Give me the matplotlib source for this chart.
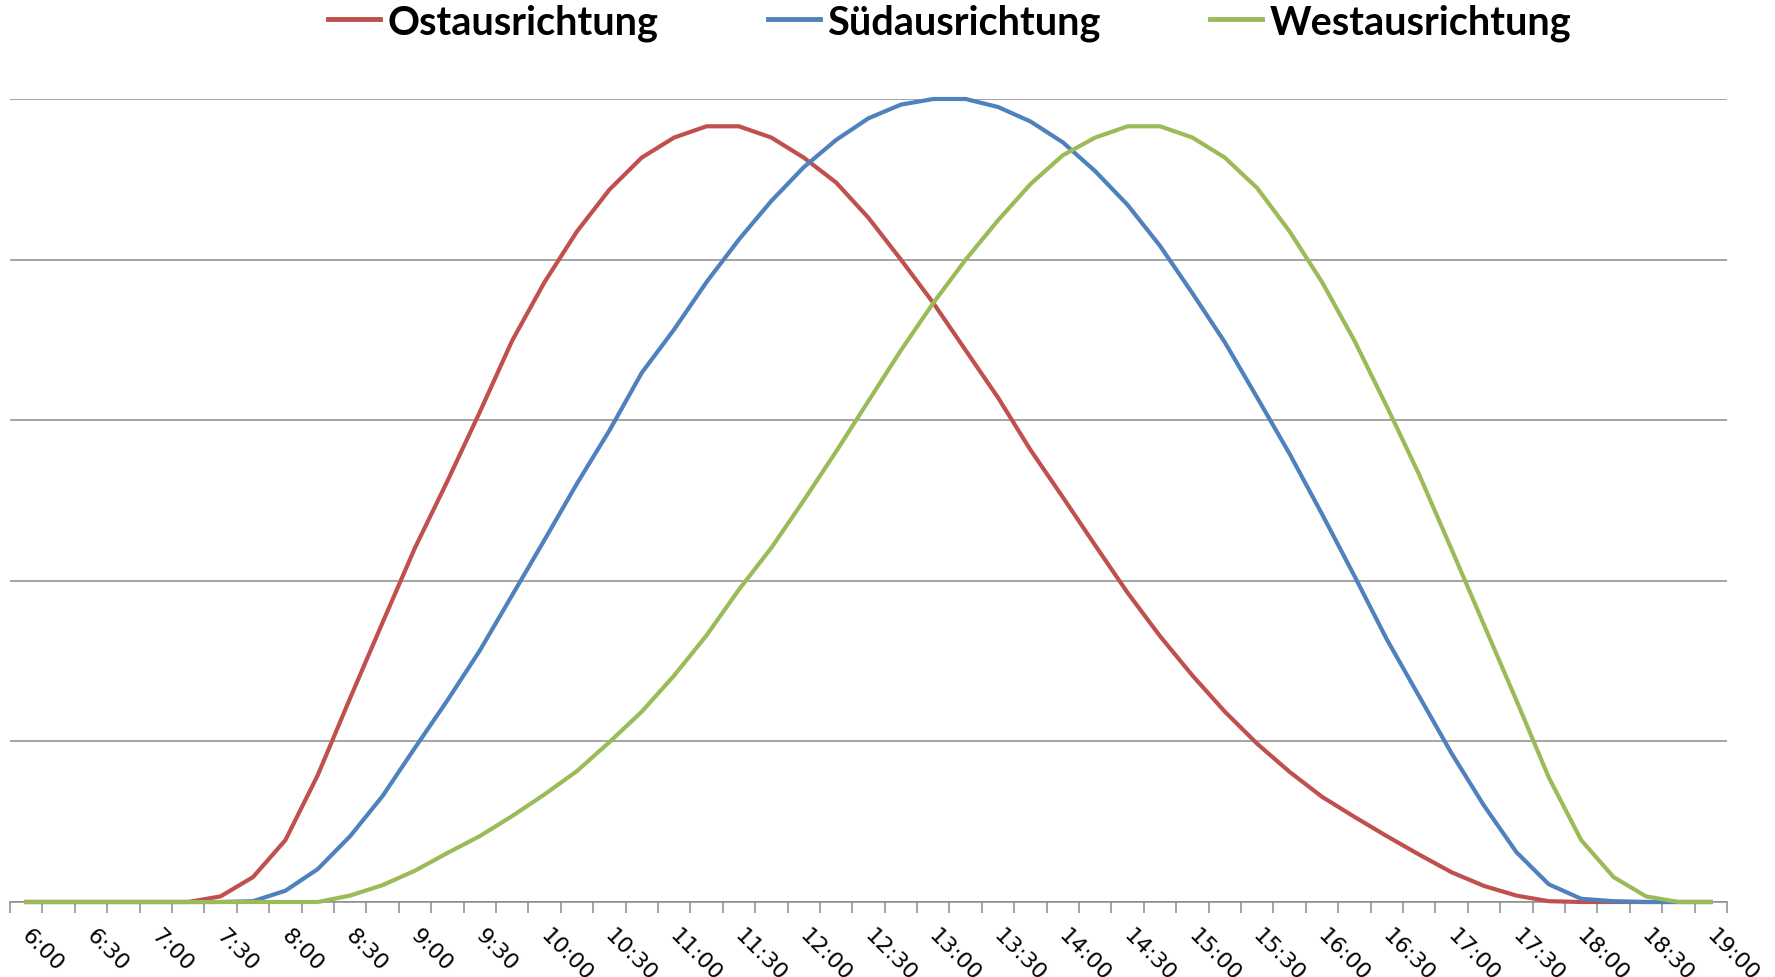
import matplotlib
matplotlib.use("Agg")
import matplotlib.pyplot as plt
import matplotlib.transforms as mtransforms
from matplotlib.lines import Line2D

# Uhrzeiten im 15-Minuten-Raster, 6:00 bis 19:00
times = ["%d:%02d" % (h, m) for h in range(6, 20) for m in (0, 15, 30, 45)][:53]

# relative Leistung (Achse ohne Beschriftung)
ost = [0, 0, 0, 0, 0, 0, 7, 31, 77, 158, 254, 348, 441, 524, 610, 699,
       772, 835, 887, 927, 952, 966, 966, 952, 927, 896, 852, 800, 746, 687,
       628, 563, 504, 444, 385, 331, 282, 237, 197, 162, 131, 106, 82, 59,
       37, 20, 8, 1, 0, 0, 0, 0, 0]
sued = [0, 0, 0, 0, 0, 0, 0, 1, 14, 41, 82, 132, 192, 251, 313, 382,
        451, 521, 587, 659, 713, 772, 825, 873, 915, 949, 976, 993, 1000, 1000,
        990, 972, 946, 910, 868, 817, 758, 697, 628, 558, 483, 406, 327, 256,
        185, 120, 62, 22, 4, 1, 0, 0, 0]
west = [0, 0, 0, 0, 0, 0, 0, 0, 0, 0, 8, 21, 39, 61, 82, 107,
        134, 163, 199, 237, 282, 332, 389, 441, 500, 561, 624, 687, 746, 800,
        849, 894, 930, 952, 966, 966, 952, 927, 889, 835, 772, 699, 617, 532,
        439, 345, 251, 155, 77, 31, 7, 0, 0]

series = [("Ostausrichtung", ost, "#C0504D"),
          ("Südausrichtung", sued, "#4F81BD"),
          ("Westausrichtung", west, "#9BBB59")]

fig = plt.figure(figsize=(17.75, 9.78), dpi=100)
ax = fig.add_axes([10 / 1775, 75 / 978, 1717 / 1775, 803 / 978])

x = list(range(len(times)))
for name, vals, col in series:
    ax.plot(x, vals, color=col, lw=3, label=name, clip_on=False, zorder=3,
            solid_joinstyle="round")

ax.set_xlim(-0.5, len(times) - 0.5)
ax.set_ylim(0, 1000)
ax.set_yticks([0, 200, 400, 600, 800, 1000])
ax.yaxis.grid(True, color="#8c8c8c", lw=1.1)
ax.tick_params(axis="y", left=False, labelleft=False)
for s in ("top", "right", "left"):
    ax.spines[s].set_visible(False)
ax.spines["bottom"].set_color("#8c8c8c")
ax.spines["bottom"].set_linewidth(1.1)

# Teilstriche an den Kategoriegrenzen, Beschriftung jede halbe Stunde
ax.set_xticks([i - 0.5 for i in range(len(times) + 1)], minor=True)
ax.set_xticks(x[::2])
ax.set_xticklabels(times[::2], rotation=-45, ha="left", va="top",
                   rotation_mode="anchor", fontsize=16)
ax.tick_params(axis="x", which="major", length=0, pad=16)
ax.tick_params(axis="x", which="minor", length=8, color="#8c8c8c", width=1.1)
shift = mtransforms.ScaledTranslation(0.06, 0, fig.dpi_scale_trans)
for lab in ax.get_xticklabels():
    lab.set_transform(lab.get_transform() + shift)

fs = 28.5
px = fs * 100 / 72
handles = [Line2D([], [], color=c, lw=3.5) for _, _, c in series]
fig.legend(handles, [n for n, _, _ in series], loc="center",
           bbox_to_anchor=(0.535, 1 - 23 / 978), ncol=3, frameon=False,
           prop={"family": ["Lato", "DejaVu Sans"], "weight": "bold", "size": fs},
           handlelength=52 / px, handletextpad=7 / px, columnspacing=110 / px)

fig.savefig("out.png", dpi=100)
